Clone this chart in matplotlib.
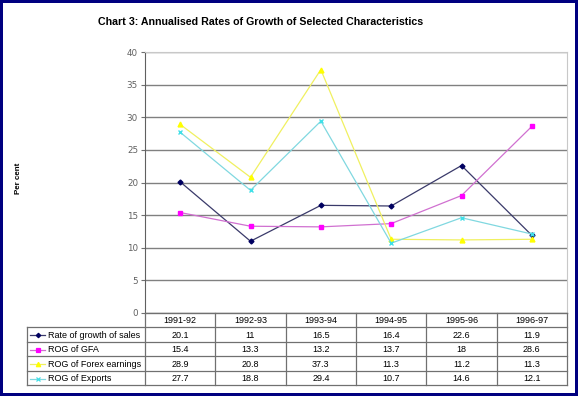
import matplotlib
matplotlib.use("Agg")
import matplotlib.pyplot as plt

years = ["1991-92", "1992-93", "1993-94", "1994-95", "1995-96", "1996-97"]
sales = [20.1, 11, 16.5, 16.4, 22.6, 11.9]
gfa = [15.4, 13.3, 13.2, 13.7, 18, 28.6]
forex = [28.9, 20.8, 37.3, 11.3, 11.2, 11.3]
exports = [27.7, 18.8, 29.4, 10.7, 14.6, 12.1]
series_names = ["Rate of growth of sales", "ROG of GFA", "ROG of Forex earnings", "ROG of Exports"]
yticks = [0, 5, 10, 15, 20, 25, 30, 35, 40]

series = [sales, gfa, forex, exports]
line_colors = ["#3a3a6a", "#d070d0", "#f0f060", "#80d8e0"]
marker_colors = ["#000060", "#ff00ff", "#ffff00", "#40e0e8"]
markers = ["D", "s", "^", "x"]
msizes = [2.5, 3.2, 3.5, 3]

W, H = 578, 396
fig = plt.figure(figsize=(W / 100, H / 100), dpi=100)
fig.patch.set_facecolor("white")
fig.patch.set_edgecolor("#000080")
fig.patch.set_linewidth(3)

L, R, T, B = 145, 567, 52, 313
ax = fig.add_axes([L / W, 1 - B / H, (R - L) / W, (B - T) / H])
xs = list(range(len(years)))
for vals, lc, mc, m, ms in zip(series, line_colors, marker_colors, markers, msizes):
    ax.plot(xs, vals, color=lc, lw=0.9, marker=m, ms=ms, mfc=mc, mec=mc, mew=1.0, zorder=3)
ax.set_xlim(-0.5, len(years) - 0.5)
ax.set_ylim(0, 40)
ax.set_yticks(yticks)
ax.set_xticks([])
ax.grid(axis="y", color="#808080", lw=1.0)
ax.set_axisbelow(True)
ax.tick_params(axis="y", direction="out", length=3, color="#707070", labelsize=6.3, labelcolor="#606060", pad=2)
for s in ["top", "right"]:
    ax.spines[s].set_color("#c8c8c8")
ax.spines["left"].set_color("#606060")
ax.spines["bottom"].set_color("#606060")

fig.text(261 / W, 1 - 22 / H, "Chart 3: Annualised Rates of Growth of Selected Characteristics",
         ha="center", va="center", fontsize=7.7, fontweight="bold", family="Liberation Sans")
fig.text(18 / W, 1 - 178 / H, "Per cent", rotation=90, ha="center", va="center",
         fontsize=5.8, fontweight="bold", family="Liberation Sans")

# data table
TL, TB = 27, 385
colw = (R - L) / len(years)
tax = fig.add_axes([TL / W, 1 - TB / H, (R - TL) / W, (TB - B) / H])
lab_w = (L - TL) / colw
tax.set_xlim(-0.5 - lab_w, len(years) - 0.5)
tax.set_ylim(5, 0)
tax.axis("off")
gc = "#707070"
for r in range(1, 6):
    tax.plot([-0.5 - lab_w, len(years) - 0.5], [r, r], color=gc, lw=0.9, clip_on=False)
tax.plot([-0.5, len(years) - 0.5], [0, 0], color=gc, lw=0.9, clip_on=False)
for c in range(len(years) + 1):
    tax.plot([c - 0.5, c - 0.5], [0, 5], color=gc, lw=0.9, clip_on=False)
tax.plot([-0.5 - lab_w, -0.5 - lab_w], [1, 5], color=gc, lw=0.9, clip_on=False)
fs = 6.5
for i, yl in enumerate(years):
    tax.text(i, 0.55, yl, ha="center", va="center", fontsize=fs, family="Liberation Sans")
for r, (name, vals) in enumerate(zip(series_names, series)):
    yy = r + 1.55
    x0 = -0.5 - lab_w
    tax.plot([x0 + 0.04, x0 + 0.26], [yy, yy], color=line_colors[r], lw=0.9, clip_on=False)
    tax.plot([x0 + 0.15], [yy], marker=markers[r], ms=msizes[r] * 0.9, color=marker_colors[r],
             mec=marker_colors[r], mew=0.9, clip_on=False)
    tax.text(x0 + 0.3, yy, name, ha="left", va="center", fontsize=fs, family="Liberation Sans")
    for i, v in enumerate(vals):
        tax.text(i, yy, f"{v:g}", ha="center", va="center", fontsize=fs, family="Liberation Sans")

fig.savefig("out.png", dpi=100, facecolor=fig.get_facecolor(), edgecolor=fig.get_edgecolor())
